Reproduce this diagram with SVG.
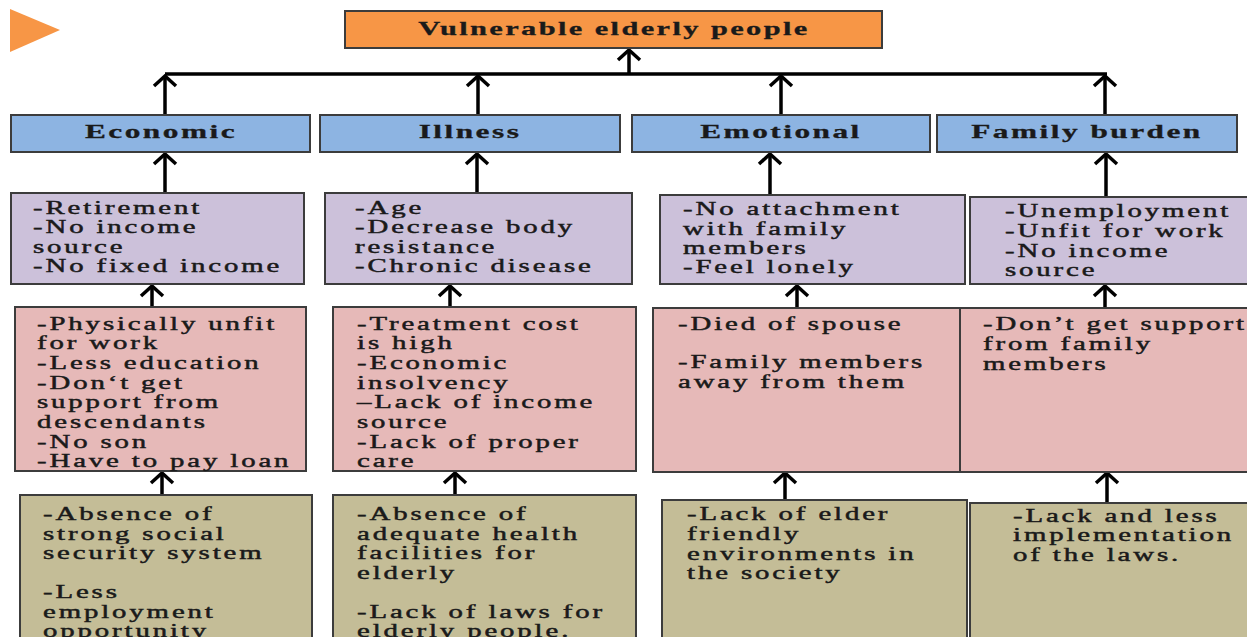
<svg xmlns="http://www.w3.org/2000/svg" width="1247" height="637" viewBox="0 0 1247 637">
<style>
.box{stroke:#3c3c3c;stroke-width:2}
.org{fill:#F79646}
.blu{fill:#8DB4E2}
.pur{fill:#CCC1DA}
.pnk{fill:#E6B9B8}
.olv{fill:#C4BD97}
text{font-family:"Liberation Serif","Times New Roman",serif;fill:#1a1a1a;stroke:#1a1a1a;stroke-width:0.45}
.hd{font-size:19px;font-weight:bold;letter-spacing:1.5px;text-anchor:middle;stroke-width:0.3}
.tt{font-size:19px;font-weight:bold;letter-spacing:1.5px;text-anchor:middle;stroke-width:0.3}
.bd{font-size:18px;letter-spacing:1.8px}
.cn{stroke:#000;stroke-width:3.5;fill:none}
</style>
<defs>
<marker id="ah" markerUnits="userSpaceOnUse" viewBox="-2 -14 14 28" refX="9" refY="0" markerWidth="14" markerHeight="28" orient="auto">
<path d="M0,-11 L10,0 L0,11" fill="none" stroke="#000" stroke-width="3.5"/>
</marker>
</defs>
<polygon points="10,9 60,30 10,52" class="org"/>
<g id="connectors">
<line class="cn" x1="165" y1="74" x2="1107" y2="74" stroke-width="3"/>
<line class="cn" x1="629" y1="74" x2="629" y2="51" marker-end="url(#ah)"/>
<line class="cn" x1="165" y1="115" x2="165" y2="77" marker-end="url(#ah)"/>
<line class="cn" x1="478" y1="115" x2="478" y2="77" marker-end="url(#ah)"/>
<line class="cn" x1="781" y1="115" x2="781" y2="77" marker-end="url(#ah)"/>
<line class="cn" x1="1105" y1="115" x2="1105" y2="77" marker-end="url(#ah)"/>
<line class="cn" x1="165" y1="193" x2="165" y2="155" marker-end="url(#ah)"/>
<line class="cn" x1="477" y1="193" x2="477" y2="155" marker-end="url(#ah)"/>
<line class="cn" x1="770" y1="195" x2="770" y2="155" marker-end="url(#ah)"/>
<line class="cn" x1="1106" y1="197" x2="1106" y2="155" marker-end="url(#ah)"/>
<line class="cn" x1="152" y1="307" x2="152" y2="287" marker-end="url(#ah)"/>
<line class="cn" x1="450" y1="307" x2="450" y2="287" marker-end="url(#ah)"/>
<line class="cn" x1="797" y1="308" x2="797" y2="287" marker-end="url(#ah)"/>
<line class="cn" x1="1105" y1="308" x2="1105" y2="287" marker-end="url(#ah)"/>
<line class="cn" x1="162" y1="495" x2="162" y2="474" marker-end="url(#ah)"/>
<line class="cn" x1="455" y1="495" x2="455" y2="474" marker-end="url(#ah)"/>
<line class="cn" x1="785" y1="500" x2="785" y2="474" marker-end="url(#ah)"/>
<line class="cn" x1="1107" y1="503" x2="1107" y2="474" marker-end="url(#ah)"/>
</g>
<g id="title">
<rect class="box org" x="345" y="11" width="537" height="37"/>
<g transform="translate(614,0) scale(1.6,1)"><text class="tt" x="0" y="35">Vulnerable elderly people</text></g>
</g>
<g id="economic">
<rect class="box blu" x="11" y="115" width="299" height="37"/>
<g transform="translate(161,0) scale(1.65,1)"><text class="hd" x="0" y="138">Economic</text></g>
</g>
<g id="illness">
<rect class="box blu" x="320" y="115" width="300" height="37"/>
<g transform="translate(470,0) scale(1.65,1)"><text class="hd" x="0" y="138">Illness</text></g>
</g>
<g id="emotional">
<rect class="box blu" x="632" y="115" width="298" height="37"/>
<g transform="translate(781,0) scale(1.65,1)"><text class="hd" x="0" y="138">Emotional</text></g>
</g>
<g id="family">
<rect class="box blu" x="937" y="115" width="300" height="37"/>
<g transform="translate(1087,0) scale(1.65,1)"><text class="hd" x="0" y="138">Family burden</text></g>
</g>
<g id="eco-factors">
<rect class="box pur" x="11" y="193" width="293" height="91"/>
<g transform="translate(33,0) scale(1.6,1)"><text class="bd"><tspan x="0" y="214">-Retirement</tspan><tspan x="0" y="233">-No income</tspan><tspan x="0" y="253">source</tspan><tspan x="0" y="272">-No fixed income</tspan></text></g>
</g>
<g id="ill-factors">
<rect class="box pur" x="325" y="193" width="307" height="91"/>
<g transform="translate(355,0) scale(1.6,1)"><text class="bd"><tspan x="0" y="214">-Age</tspan><tspan x="0" y="233">-Decrease body</tspan><tspan x="0" y="253">resistance</tspan><tspan x="0" y="272">-Chronic disease</tspan></text></g>
</g>
<g id="emo-factors">
<rect class="box pur" x="660" y="195" width="305" height="89"/>
<g transform="translate(683,0) scale(1.6,1)"><text class="bd"><tspan x="0" y="215">-No attachment</tspan><tspan x="0" y="235">with family</tspan><tspan x="0" y="254">members</tspan><tspan x="0" y="273">-Feel lonely</tspan></text></g>
</g>
<g id="fam-factors">
<rect class="box pur" x="970" y="197" width="285" height="87"/>
<g transform="translate(1005,0) scale(1.6,1)"><text class="bd"><tspan x="0" y="217">-Unemployment</tspan><tspan x="0" y="237">-Unfit for work</tspan><tspan x="0" y="257">-No income</tspan><tspan x="0" y="276">source</tspan></text></g>
</g>
<g id="eco-causes">
<rect class="box pnk" x="15" y="307" width="291" height="164"/>
<g transform="translate(37,0) scale(1.6,1)"><text class="bd"><tspan x="0" y="330">-Physically unfit</tspan><tspan x="0" y="349">for work</tspan><tspan x="0" y="369">-Less education</tspan><tspan x="0" y="389">-Don‘t get</tspan><tspan x="0" y="408">support from</tspan><tspan x="0" y="428">descendants</tspan><tspan x="0" y="448">-No son</tspan><tspan x="0" y="467">-Have to pay loan</tspan></text></g>
</g>
<g id="ill-causes">
<rect class="box pnk" x="333" y="307" width="303" height="164"/>
<g transform="translate(357,0) scale(1.6,1)"><text class="bd"><tspan x="0" y="330">-Treatment cost</tspan><tspan x="0" y="349">is high</tspan><tspan x="0" y="369">-Economic</tspan><tspan x="0" y="389">insolvency</tspan><tspan x="0" y="408">–Lack of income</tspan><tspan x="0" y="428">source</tspan><tspan x="0" y="448">-Lack of proper</tspan><tspan x="0" y="467">care</tspan></text></g>
</g>
<g id="emo-causes">
<rect class="box pnk" x="653" y="308" width="307" height="164"/>
<g transform="translate(678,0) scale(1.6,1)"><text class="bd"><tspan x="0" y="330">-Died of spouse</tspan><tspan x="0" y="368">-Family members</tspan><tspan x="0" y="388">away from them</tspan></text></g>
</g>
<g id="fam-causes">
<rect class="box pnk" x="960" y="308" width="295" height="164"/>
<g transform="translate(983,0) scale(1.6,1)"><text class="bd"><tspan x="0" y="330">-Don’t get support</tspan><tspan x="0" y="350">from family</tspan><tspan x="0" y="370">members</tspan></text></g>
</g>
<g id="eco-roots">
<rect class="box olv" x="20" y="495" width="292" height="150"/>
<g transform="translate(43,0) scale(1.6,1)"><text class="bd"><tspan x="0" y="520">-Absence of</tspan><tspan x="0" y="540">strong social</tspan><tspan x="0" y="559">security system</tspan><tspan x="0" y="598">-Less</tspan><tspan x="0" y="618">employment</tspan><tspan x="0" y="637">opportunity</tspan></text></g>
</g>
<g id="ill-roots">
<rect class="box olv" x="333" y="495" width="303" height="150"/>
<g transform="translate(357,0) scale(1.6,1)"><text class="bd"><tspan x="0" y="520">-Absence of</tspan><tspan x="0" y="540">adequate health</tspan><tspan x="0" y="559">facilities for</tspan><tspan x="0" y="579">elderly</tspan><tspan x="0" y="618">-Lack of laws for</tspan><tspan x="0" y="637">elderly people.</tspan></text></g>
</g>
<g id="emo-roots">
<rect class="box olv" x="662" y="500" width="305" height="145"/>
<g transform="translate(687,0) scale(1.6,1)"><text class="bd"><tspan x="0" y="520">-Lack of elder</tspan><tspan x="0" y="540">friendly</tspan><tspan x="0" y="560">environments in</tspan><tspan x="0" y="579">the society</tspan></text></g>
</g>
<g id="fam-roots">
<rect class="box olv" x="970" y="503" width="285" height="142"/>
<g transform="translate(1013,0) scale(1.6,1)"><text class="bd"><tspan x="0" y="522">-Lack and less</tspan><tspan x="0" y="541">implementation</tspan><tspan x="0" y="561">of the laws.</tspan></text></g>
</g>
</svg>
